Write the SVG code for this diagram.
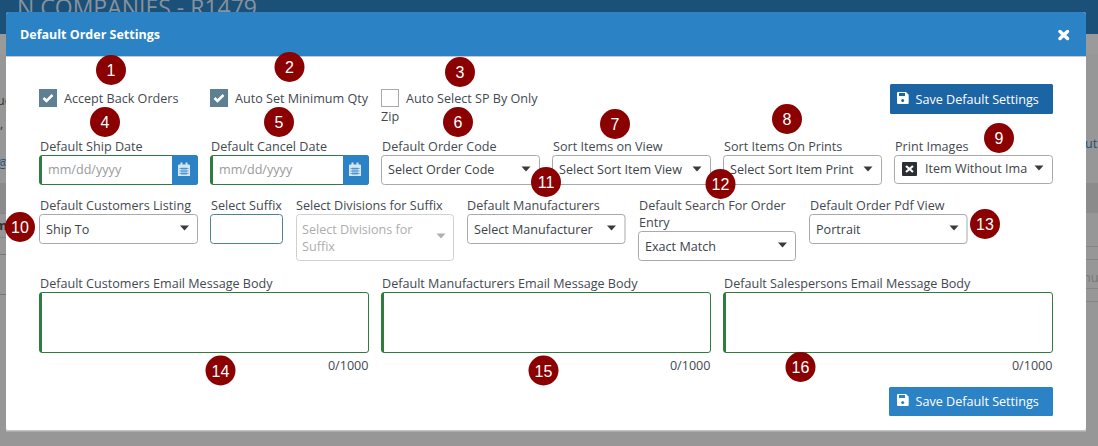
<svg xmlns="http://www.w3.org/2000/svg" width="1098" height="446" viewBox="0 0 1098 446">
<style>
text{font-family:"Open Sans","Noto Sans",sans-serif;font-size:12.6px;fill:#454c53}
.lb{fill:#43494f}
.v{fill:#3d4349}
.ph{fill:#9a9a9a}
.w{fill:#fff}
.sel{fill:#fff;stroke:#a9a9a9;stroke-width:1}
.gr{fill:#fff;stroke:#2e7d3e;stroke-width:1}
.bar{fill:#2e7d3e}
.car{fill:#3a3a3a}
.cal{fill:#2b82c4}
.num circle{fill:#8b0000}
.num text{font-family:"Liberation Sans",Arial,sans-serif;font-size:16px;fill:#fff;text-anchor:middle}
</style>
<defs>
<g id="calicon"><path d="M0 3.500a1 1 0 0 1 1-1h1.500V0.500h2v2h3v-2h2v2H11a1 1 0 0 1 1 1V14H0z" fill="#d5e6f3"/><path d="M1.500 6.500h9M1.500 9h9M1.500 11.500h9M4 5.500v7.500M6 5.500v7.500M8 5.500v7.500" stroke="#2b82c4" stroke-width=".7" fill="none"/></g>
<path id="caret" d="M-4.500-2.500h9L0 2.500z" fill="#3a3a3a"/>
</defs>
<rect width="1098" height="446" fill="#979797"/>
<rect y="34" width="1098" height="20" fill="#9a9a9a"/>
<rect y="183" width="1098" height="30" fill="#8b8b8b"/>
<rect width="1098" height="34" fill="#1b5078"/>
<text x="17" y="16" style="font-size:23px;fill:#84939f">N COMPANIES - R1479</text>
<rect x="0" y="213" width="6" height="1" fill="#858585"/>
<rect x="0" y="237" width="6" height="1" fill="#858585"/>
<rect x="0" y="254" width="6" height="1" fill="#777"/>
<rect x="0" y="294" width="6" height="1" fill="#777"/>
<rect x="1085" y="246" width="13" height="1" fill="#858585"/>
<rect x="1085" y="259" width="13" height="1" fill="#858585"/>
<rect x="1085" y="288" width="13" height="1" fill="#858585"/>
<rect x="1085" y="301" width="13" height="1" fill="#858585"/>
<text x="-3" y="105" style="fill:#333">ue</text>
<text x="0" y="128" style="fill:#333">,</text>
<text x="-3" y="168" style="fill:#1c4f74">@</text>
<text x="-5" y="230" style="fill:#333;font-weight:700">m</text>
<text x="1085" y="148" style="fill:#1c4f74">ut</text>
<text x="1083" y="282" style="fill:#777">nut</text>
<g id="modal">
<rect x="6" y="12" width="1080" height="419" rx="3" fill="#fff"/>
<rect x="6" y="430" width="1080" height="1.500" fill="#c4c4c4"/>
<path d="M6 56V15a3 3 0 0 1 3-3H1083a3 3 0 0 1 3 3V56Z" fill="#2b82c4"/>
<rect x="6" y="56" width="1080" height="1" fill="#c9c9c9"/>
<text x="20" y="39" class="w" style="font-weight:700;font-size:12.500px">Default Order Settings</text>
<path d="M1060 31.500l7.500 7M1067.500 31.500l-7.500 7" stroke="#fff" stroke-width="3.500" stroke-linecap="round"/>
</g>
<g id="accept-back-orders">
<rect x="39" y="89" width="18" height="18" fill="#5f7f93"/>
<path d="M43.500 98l3 3 6-6" fill="none" stroke="#fff" stroke-width="2.500"/>
<text x="64" y="103" class="lb">Accept Back Orders</text>
</g>
<g id="auto-set-min">
<rect x="210" y="89" width="18" height="18" fill="#5f7f93"/>
<path d="M214.500 98l3 3 6-6" fill="none" stroke="#fff" stroke-width="2.500"/>
<text x="235" y="103" class="lb">Auto Set Minimum Qty</text>
</g>
<g id="auto-select-sp">
<rect x="381.500" y="89.500" width="17" height="17" fill="#fff" stroke="#a9a9a9"/>
<text x="406" y="103" class="lb">Auto Select SP By Only</text>
<text x="381" y="121" class="lb">Zip</text>
</g>
<g id="save-top">
<rect x="890" y="84" width="163" height="30" rx="1.500" fill="#1b65a4"/>
<path d="M898 92h8l2.700 2.700v8.300a1 1 0 0 1-1 1h-9.700a1 1 0 0 1-1-1v-10a1 1 0 0 1 1-1z" fill="#fff"/>
<circle cx="902.700" cy="100.500" r="1.500" fill="#1b65a4"/><rect x="899" y="93" width="6" height="3" fill="#1b65a4"/>
<text x="915.500" y="104" class="w">Save Default Settings</text>
</g>
<g id="ship-date">
<text x="40" y="151" class="lb">Default Ship Date</text>
<rect x="39.500" y="155.500" width="158" height="29" rx="2.500" class="gr"/>
<rect x="40" y="156" width="2" height="28" class="bar"/>
<path d="M172 155h23a3 3 0 0 1 3 3v24a3 3 0 0 1-3 3h-23z" class="cal"/>
<use href="#calicon" x="178" y="162"/>
<text x="48" y="174" class="ph">mm/dd/yyyy</text>
</g>
<g id="cancel-date">
<text x="211" y="151" class="lb">Default Cancel Date</text>
<rect x="210.500" y="155.500" width="158" height="29" rx="2.500" class="gr"/>
<rect x="211" y="156" width="2" height="28" class="bar"/>
<path d="M343 155h23a3 3 0 0 1 3 3v24a3 3 0 0 1-3 3h-23z" class="cal"/>
<use href="#calicon" x="349" y="162"/>
<text x="219" y="174" class="ph">mm/dd/yyyy</text>
</g>
<g id="order-code">
<text x="382" y="151" class="lb">Default Order Code</text>
<rect x="381.500" y="155.500" width="158" height="29" rx="3" class="sel"/>
<text x="388" y="174" class="v">Select Order Code</text>
<use href="#caret" x="526" y="169"/>
</g>
<g id="sort-view">
<text x="553" y="151" class="lb">Sort Items on View</text>
<rect x="552.500" y="155.500" width="158" height="29" rx="3" class="sel"/>
<text x="559" y="174" class="v">Select Sort Item View</text>
<use href="#caret" x="697" y="169"/>
</g>
<g id="sort-prints">
<text x="724" y="151" class="lb">Sort Items On Prints</text>
<rect x="723.500" y="155.500" width="158" height="29" rx="3" class="sel"/>
<text x="730" y="174" class="v">Select Sort Item Print</text>
<use href="#caret" x="868" y="169"/>
</g>
<g id="print-images">
<text x="895" y="151" class="lb">Print Images</text>
<rect x="894.500" y="155.500" width="158" height="28" rx="3" class="sel"/>
<rect x="902" y="162" width="15" height="14" rx="1" fill="#2b2f33"/>
<path d="M906 166l7 6M913 166l-7 6" stroke="#fff" stroke-width="2.200"/>
<text x="925" y="173" class="v">Item Without Ima</text>
<use href="#caret" x="1039" y="168"/>
</g>
<g id="customers-listing">
<text x="40" y="210" class="lb">Default Customers Listing</text>
<rect x="39.500" y="214.500" width="158" height="29" rx="3" class="sel"/>
<text x="46" y="234" class="v">Ship To</text>
<use href="#caret" x="184.500" y="228"/>
</g>
<g id="suffix">
<text x="211" y="210" class="lb">Select Suffix</text>
<rect x="210.500" y="214.500" width="72" height="29" rx="3" fill="#fff" stroke="#4f7f99"/>
</g>
<g id="divisions">
<text x="296" y="210" class="lb">Select Divisions for Suffix</text>
<rect x="296.500" y="214.500" width="157" height="46" rx="3" fill="#fff" stroke="#d0d0d0"/>
<text x="302" y="234" style="fill:#adadad">Select Divisions for</text>
<text x="302" y="251" style="fill:#adadad">Suffix</text>
<use href="#caret" x="441" y="236" opacity=".4"/>
</g>
<g id="manufacturers">
<text x="467" y="210" class="lb">Default Manufacturers</text>
<rect x="467.500" y="214.500" width="157.500" height="29" rx="3" class="sel"/>
<text x="474" y="234" class="v">Select Manufacturer</text>
<use href="#caret" x="611.500" y="228"/>
</g>
<g id="search-entry">
<text x="639" y="210" class="lb">Default Search For Order</text>
<text x="639" y="227" class="lb">Entry</text>
<rect x="638.500" y="231.500" width="157" height="29" rx="3" class="sel"/>
<text x="645" y="251" class="v">Exact Match</text>
<use href="#caret" x="782.500" y="245"/>
</g>
<g id="pdf-view">
<text x="810" y="210" class="lb">Default Order Pdf View</text>
<rect x="809.500" y="214.500" width="157.500" height="29" rx="3" class="sel"/>
<text x="816" y="234" class="v">Portrait</text>
<use href="#caret" x="954" y="228"/>
</g>
<g id="customers-email">
<text x="40" y="288" class="lb">Default Customers Email Message Body</text>
<rect x="39.500" y="292.500" width="329" height="60" rx="2.500" class="gr"/>
<rect x="40" y="293" width="2" height="59" class="bar"/>
<text x="368.500" y="370" class="lb" text-anchor="end">0/1000</text>
</g>
<g id="manufacturers-email">
<text x="382" y="288" class="lb">Default Manufacturers Email Message Body</text>
<rect x="381.500" y="292.500" width="329" height="60" rx="2.500" class="gr"/>
<rect x="382" y="293" width="2" height="59" class="bar"/>
<text x="710.500" y="370" class="lb" text-anchor="end">0/1000</text>
</g>
<g id="salespersons-email">
<text x="724" y="288" class="lb">Default Salespersons Email Message Body</text>
<rect x="723.500" y="292.500" width="329" height="60" rx="2.500" class="gr"/>
<rect x="724" y="293" width="2" height="59" class="bar"/>
<text x="1052.500" y="370" class="lb" text-anchor="end">0/1000</text>
</g>
<g id="save-bottom">
<rect x="889" y="387" width="164" height="29" rx="1.500" fill="#2b82c4"/>
<path d="M898 394h8l2.700 2.700v8.300a1 1 0 0 1-1 1h-9.700a1 1 0 0 1-1-1v-10a1 1 0 0 1 1-1z" fill="#fff"/>
<circle cx="902.700" cy="402.500" r="1.500" fill="#2b82c4"/><rect x="899" y="395" width="6" height="3" fill="#2b82c4"/>
<text x="915.500" y="406" class="w">Save Default Settings</text>
</g>
<g id="badges" class="num">
<g id="b1"><circle cx="111" cy="70" r="15"/><text x="111" y="76">1</text></g>
<g id="b2"><circle cx="289.500" cy="67" r="15"/><text x="289.500" y="73">2</text></g>
<g id="b3"><circle cx="460" cy="72" r="15"/><text x="460" y="78">3</text></g>
<g id="b4"><circle cx="105" cy="122" r="15"/><text x="105" y="128">4</text></g>
<g id="b5"><circle cx="279" cy="122" r="15"/><text x="279" y="128">5</text></g>
<g id="b6"><circle cx="458" cy="122" r="15"/><text x="458" y="128">6</text></g>
<g id="b7"><circle cx="615" cy="124" r="15"/><text x="615" y="130">7</text></g>
<g id="b8"><circle cx="787" cy="119" r="15"/><text x="787" y="125">8</text></g>
<g id="b9"><circle cx="999" cy="138" r="15"/><text x="999" y="144">9</text></g>
<g id="b10"><circle cx="20" cy="227" r="15"/><text x="20" y="233">10</text></g>
<g id="b11"><circle cx="546" cy="182" r="15"/><text x="546" y="188">11</text></g>
<g id="b12"><circle cx="720.500" cy="184" r="15"/><text x="720.500" y="190">12</text></g>
<g id="b13"><circle cx="985" cy="224" r="15"/><text x="985" y="230">13</text></g>
<g id="b14"><circle cx="220.500" cy="370.500" r="15"/><text x="220.500" y="376.500">14</text></g>
<g id="b15"><circle cx="543.500" cy="370.500" r="15"/><text x="543.500" y="376.500">15</text></g>
<g id="b16"><circle cx="800.500" cy="367" r="15"/><text x="800.500" y="373">16</text></g>
</g>
</svg>
